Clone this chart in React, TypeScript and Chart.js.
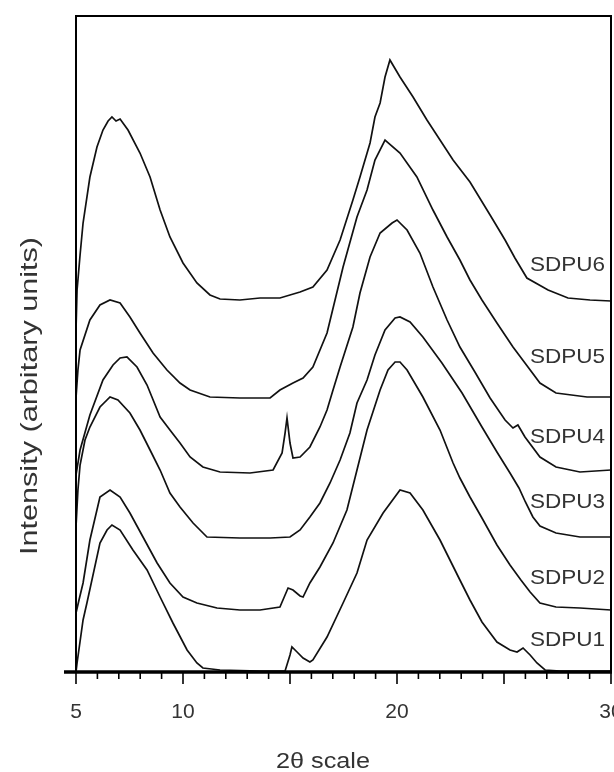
import React, { useEffect, useRef } from "react";
import { Chart, registerables } from "chart.js";

Chart.register(...registerables);

// 2θ (deg), intensity (arbitrary units)
const SDPU6: [number, number][] = [
  [5.0, 342], [5.05, 382], [5.19, 417], [5.33, 449], [5.65, 495], [5.98, 525], [6.26, 542], [6.5, 551],
  [6.68, 555], [6.87, 551], [7.06, 553], [7.43, 542], [7.99, 519], [8.46, 495], [8.93, 462], [9.39, 435],
  [10.0, 409], [10.65, 389], [11.26, 377], [11.73, 373], [12.66, 372], [13.6, 374], [14.53, 374], [15.47, 380],
  [16.07, 385], [16.73, 402], [17.34, 432], [17.94, 472], [18.27, 495], [18.74, 529], [18.97, 555], [19.21, 569],
  [19.44, 595], [19.67, 612], [20.14, 595], [20.75, 575], [21.4, 552], [22.01, 532], [22.62, 512], [23.41, 490],
  [24.35, 457], [25.05, 432], [25.51, 414], [26.07, 394], [27.06, 382], [27.99, 374], [29.02, 372], [30.0, 371],
];

const SDPU5: [number, number][] = [
  [5.0, 274], [5.09, 302], [5.19, 322], [5.65, 352], [6.12, 367], [6.59, 372], [7.06, 369], [7.52, 355],
  [7.99, 339], [8.6, 319], [9.25, 302], [9.86, 289], [10.33, 282], [11.26, 275], [12.66, 274], [14.07, 274],
  [14.53, 282], [15.14, 289], [15.61, 294], [16.07, 305], [16.73, 339], [17.48, 405], [18.13, 455], [18.6, 482],
  [18.97, 512], [19.44, 532], [20.14, 519], [20.93, 495], [21.68, 462], [22.34, 435], [22.94, 412], [23.41, 392],
  [23.97, 372], [24.67, 349], [25.42, 325], [25.98, 309], [26.68, 289], [27.43, 279], [28.88, 275], [30.0, 275],
];

const SDPU4: [number, number][] = [
  [5.0, 197], [5.19, 222], [5.65, 257], [6.26, 292], [6.73, 307], [7.06, 314], [7.38, 315], [7.85, 305],
  [8.32, 287], [8.93, 255], [9.39, 242], [9.86, 229], [10.33, 215], [10.93, 205], [11.73, 200], [13.13, 199],
  [14.21, 202], [14.63, 219], [14.77, 239], [14.86, 254], [15.0, 229], [15.14, 214], [15.47, 215], [15.93, 225],
  [16.4, 245], [16.73, 262], [17.01, 282], [17.34, 305], [17.94, 345], [18.27, 379], [18.74, 415], [19.21, 439],
  [19.77, 449], [20.0, 452], [20.47, 442], [21.07, 419], [21.68, 385], [22.34, 352], [22.94, 325], [23.64, 300],
  [24.35, 274], [25.05, 252], [25.42, 244], [25.65, 247], [25.98, 235], [26.68, 215], [27.43, 205], [28.55, 200],
  [30.0, 202],
];

const SDPU3: [number, number][] = [
  [5.0, 145], [5.09, 182], [5.19, 207], [5.42, 232], [5.65, 245], [6.12, 265], [6.59, 275], [6.96, 272],
  [7.52, 259], [7.99, 242], [8.46, 222], [8.93, 202], [9.39, 179], [9.86, 165], [10.47, 149], [11.12, 135],
  [12.66, 134], [14.07, 134], [15.0, 135], [15.47, 142], [15.93, 155], [16.4, 169], [16.87, 189], [17.34, 212],
  [17.8, 239], [18.13, 269], [18.6, 292], [18.97, 317], [19.44, 342], [19.91, 354], [20.14, 355], [20.61, 350],
  [21.21, 335], [22.1, 309], [23.04, 279], [23.97, 245], [24.67, 220], [25.28, 199], [25.7, 184], [26.0, 170],
  [26.35, 155], [26.68, 146], [27.43, 139], [28.55, 135], [30.0, 135],
];

const SDPU2: [number, number][] = [
  [5.0, 59], [5.14, 72], [5.33, 89], [5.65, 132], [6.12, 175], [6.59, 182], [7.06, 175], [7.52, 159],
  [8.13, 135], [8.79, 109], [9.39, 89], [10.0, 75], [10.65, 69], [11.59, 64], [12.66, 62], [13.6, 62],
  [14.53, 65], [14.77, 77], [14.91, 84], [15.14, 82], [15.47, 76], [15.61, 75], [15.93, 89], [16.4, 105],
  [17.01, 129], [17.66, 162], [18.13, 202], [18.6, 242], [19.21, 282], [19.58, 302], [19.91, 310], [20.14, 310],
  [20.47, 302], [21.21, 275], [22.01, 242], [22.62, 209], [22.94, 194], [23.41, 175], [23.97, 154], [24.67, 127],
  [25.28, 107], [25.79, 92], [26.22, 80], [26.68, 69], [27.43, 65], [28.55, 64], [30.0, 62],
];

const SDPU1: [number, number][] = [
  [5.0, 0], [5.05, 9], [5.33, 52], [5.51, 69], [6.12, 129], [6.45, 142], [6.68, 147], [7.06, 142],
  [7.66, 122], [8.32, 102], [8.93, 75], [9.53, 49], [10.19, 22], [10.65, 9], [10.93, 4], [11.73, 2],
  [13.6, 1], [14.77, 1], [15.0, 17], [15.09, 25], [15.33, 20], [15.61, 14], [15.93, 10], [16.07, 12],
  [16.73, 35], [17.48, 69], [18.13, 99], [18.6, 132], [19.35, 159], [20.14, 182], [20.61, 179], [21.21, 162],
  [22.01, 132], [22.94, 92], [23.41, 72], [23.97, 50], [24.67, 30], [25.28, 22], [25.61, 20], [25.89, 24],
  [26.22, 17], [26.54, 9], [26.92, 2], [27.62, 1], [30.0, 1],
];

const seriesNames = ["SDPU1", "SDPU2", "SDPU3", "SDPU4", "SDPU5", "SDPU6"];
const seriesData = [SDPU1, SDPU2, SDPU3, SDPU4, SDPU5, SDPU6];
// vertical level (intensity units) at which each series name sits
const nameLevels = [32, 94, 170, 235, 315, 407];
const labeledTicks = [5, 10, 20, 30];
const xMin = 5;
const xMax = 30;
const yMax = 656;

const FONT = "'Liberation Sans', Arial, sans-serif";
const TEXT = "#333";

function stretchedText(ctx: any, text: string, x: number, y: number, width: number) {
  const w = ctx.measureText(text).width;
  ctx.save();
  ctx.translate(x, y);
  ctx.scale(width / w, 1);
  ctx.fillText(text, 0, 0);
  ctx.restore();
}

const decor = {
  id: "decor",
  afterDatasetsDraw(chart: any) {
    const { ctx, chartArea } = chart;
    const xs = chart.scales.x;
    const ys = chart.scales.y;
    const { left, right, top, bottom } = chartArea;
    ctx.save();
    ctx.strokeStyle = "#000";
    // frame
    ctx.lineWidth = 2;
    ctx.beginPath();
    ctx.moveTo(left, bottom);
    ctx.lineTo(left, top);
    ctx.lineTo(right, top);
    ctx.lineTo(right, bottom);
    ctx.stroke();
    // bottom axis
    ctx.lineWidth = 3.5;
    ctx.beginPath();
    ctx.moveTo(left - 12, bottom);
    ctx.lineTo(right + 1, bottom);
    ctx.stroke();
    // ticks
    ctx.lineWidth = 1.6;
    for (let v = xMin; v <= xMax; v++) {
      const px = xs.getPixelForValue(v);
      const len = v % 5 === 0 ? 12 : 7;
      ctx.beginPath();
      ctx.moveTo(px, bottom);
      ctx.lineTo(px, bottom + len);
      ctx.stroke();
    }
    // series names
    ctx.fillStyle = TEXT;
    ctx.font = `21px ${FONT}`;
    ctx.textAlign = "right";
    ctx.textBaseline = "middle";
    seriesNames.forEach((n, i) => {
      stretchedText(ctx, n, xs.getPixelForValue(xMax) - 6, ys.getPixelForValue(nameLevels[i]), 75);
    });
    // axis titles
    ctx.font = `22px ${FONT}`;
    ctx.textAlign = "center";
    stretchedText(ctx, "2θ scale", 323, 762, 94);
    ctx.font = `24px ${FONT}`;
    ctx.translate(30, 396);
    ctx.rotate(-Math.PI / 2);
    stretchedText(ctx, "Intensity (arbitary units)", 0, 0, 318);
    ctx.restore();
  },
};

export default function App() {
  const ref = useRef<HTMLCanvasElement>(null);
  useEffect(() => {
    if (!ref.current) return;
    const chart = new Chart(ref.current, {
      type: "line",
      data: {
        datasets: seriesData.map((d, i) => ({
          label: seriesNames[i],
          data: d.map(([x, y]) => ({ x, y })),
          borderColor: "#111",
          borderWidth: 1.7,
          pointRadius: 0,
          fill: false,
          tension: 0,
        })),
      },
      options: {
        animation: false,
        responsive: false,
        layout: { padding: { top: 16, left: 76, right: 3, bottom: 0 } },
        plugins: { legend: { display: false }, tooltip: { enabled: false } },
        scales: {
          x: {
            type: "linear",
            min: xMin,
            max: xMax,
            grid: { display: false, drawTicks: false },
            border: { display: false },
            ticks: {
              stepSize: 1,
              autoSkip: false,
              maxRotation: 0,
              padding: 28,
              color: TEXT,
              font: { size: 21, family: FONT },
              callback: (v: any) => (labeledTicks.includes(Number(v)) ? String(v) : ""),
            },
            afterFit: (s: any) => {
              s.height = 100;
              s.paddingLeft = 0;
              s.paddingRight = 0;
            },
          },
          y: { display: false, min: 0, max: yMax },
        },
      },
      plugins: [decor],
    });
    return () => chart.destroy();
  }, []);
  return (
    <div style={{ position: "absolute", left: 0, top: 0, width: 614, height: 772, background: "#fff" }}>
      <canvas ref={ref} width={614} height={772} style={{ display: "block" }} />
    </div>
  );
}
